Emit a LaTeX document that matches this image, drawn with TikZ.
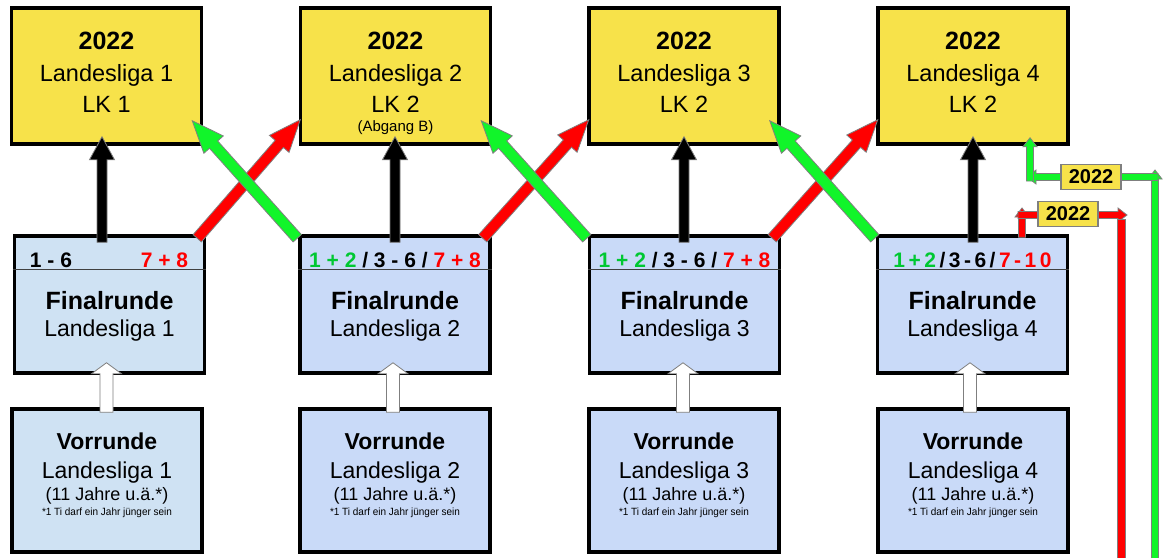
\documentclass[tikz,border=0pt]{standalone}
\usepackage{fontspec}
\setmainfont{Liberation Sans}
\usepackage{graphicx}
\usetikzlibrary{calc}
\definecolor{yel}{HTML}{F7E24A}
\definecolor{lbone}{HTML}{CFE2F3}
\definecolor{lbtwo}{HTML}{C9DAF8}
\definecolor{grn}{HTML}{11F52A}
\definecolor{tgrn}{HTML}{00C832}
\definecolor{rd}{HTML}{FF0000}
\definecolor{bord}{HTML}{7F7F7F}
\newcommand\fsz[2]{\fontsize{#1}{#2}\selectfont}
\newcommand\hdrfont{\bfseries\fsz{21}{25}}
% fat arrow polygon: from, to, fill, half shaft, half head, head length
\newcommand\fatarr[6]{%
  \coordinate (fh) at ($(#2)!#6!(#1)$);
  \draw[arrowshape, fill=#3]
    ($(#1)!#4!90:(#2)$) -- ($(fh)!#4!90:(#2)$) -- ($(fh)!#5!90:(#2)$) -- (#2)
    -- ($(fh)!#5!-90:(#2)$) -- ($(fh)!#4!-90:(#2)$) -- ($(#1)!#4!-90:(#2)$) -- cycle;}
\tikzset{
  box/.style={draw=black, line width=3.5pt, inner sep=0pt, minimum width=190pt},
  ybox/.style={box, fill=yel, minimum height=136pt},
  fbox/.style={box, minimum height=137pt},
  vbox/.style={box, minimum height=143pt},
  txt/.style={anchor=base, inner sep=0pt},
  divider/.style={draw=black!75, line width=1.2pt},
  arrowshape/.style={draw=bord, line width=0.8pt, line join=miter},
  lab/.style={draw=bord, line width=1.8pt, fill=yel, font=\bfseries\fsz{20}{24}, inner sep=0pt, minimum width=60pt, minimum height=25pt},
}
\begin{document}
\begin{tikzpicture}[x=1pt,y=-1pt]
\useasboundingbox (0,0) rectangle (1167,557);
\fill[white] (0,0) rectangle (1167,557);
% ---- boxes
\node[ybox] (y1) at (106.5,76) {};
\node[ybox] (y2) at (395.5,76) {};
\node[ybox] (y3) at (684,76) {};
\node[ybox] (y4) at (973,76) {};
\node[fbox, fill=lbone] (f1) at (109.5,304.5) {};
\node[fbox, fill=lbtwo] (f2) at (395,304.5) {};
\node[fbox, fill=lbtwo] (f3) at (684.5,304.5) {};
\node[fbox, fill=lbtwo] (f4) at (972.5,304.5) {};
\node[vbox, fill=lbone] (v1) at (107,480.5) {};
\node[vbox, fill=lbtwo] (v2) at (395,480.5) {};
\node[vbox, fill=lbtwo] (v3) at (684,480.5) {};
\node[vbox, fill=lbtwo] (v4) at (973,480.5) {};
% ---- texts
\foreach \k/\lk in {1/1,2/2,3/2,4/2}{
  \node[txt, font=\bfseries\fsz{25}{30}] (ya\k) at ($(y\k.north)+(0,43.5)$) {2022};
  \node[txt, font=\fsz{23.5}{28}] (yb\k) at ($(y\k.north)+(0,75)$) {Landesliga \k};
  \node[txt, font=\fsz{23.5}{28}] (yc\k) at ($(y\k.north)+(0,106)$) {LK \lk};
  \draw[divider] ($(f\k.north west)+(0,35)$) -- ($(f\k.north east)+(0,35)$);
  \node[txt, font=\bfseries\fsz{25}{30}] (fa\k) at ($(f\k.north)+(0,75)$) {Finalrunde};
  \node[txt, font=\fsz{23}{28}] (fb\k) at ($(f\k.north)+(0,102.5)$) {Landesliga \k};
  \node[txt, font=\bfseries\fsz{23}{28}] (va\k) at ($(v\k.north)+(0,42.5)$) {Vorrunde};
  \node[txt, font=\fsz{23}{28}] (vb\k) at ($(v\k.north)+(0,71)$) {Landesliga \k};
  \node[txt, font=\fsz{18}{21}] (vc\k) at ($(v\k.north)+(0,93)$) {(11 Jahre u.ä.*)};
  \node[txt, font=\fsz{10.5}{12}] (vd\k) at ($(v\k.north)+(0,108)$) {\scalebox{0.95}[1]{*1 Ti darf ein Jahr jünger sein}};
}
\node[txt, font=\fsz{15}{18}] (yd2) at ($(y2.north)+(0,125)$) {(Abgang B)};
% headers
\node[txt, anchor=base west, font=\hdrfont] (h1a) at ($(f1.north west)+(17,33.5)$) {1 - 6};
\node[txt, anchor=base east, font=\hdrfont, text=rd] (h1b) at ($(f1.north east)+(-18,33.5)$) {7 + 8};
\node[txt, font=\hdrfont] (h2) at ($(f2.north)+(0,33.5)$) {\textcolor{tgrn}{1 + 2} / 3 - 6 / \textcolor{rd}{7 + 8}};
\node[txt, font=\hdrfont] (h3) at ($(f3.north)+(0,33.5)$) {\textcolor{tgrn}{1 + 2} / 3 - 6 / \textcolor{rd}{7 + 8}};
\node[txt, font=\hdrfont] (h4) at ($(f4.north)+(0,33.5)$) {\textcolor{tgrn}{1\,+\,2}\,/\,3\,-\,6\,/\,\textcolor{rd}{7\,-\,1\,0}};
% ---- black and open arrows
\foreach \k/\bx/\ox in {1/102/106.5, 2/395/393, 3/684/683, 4/973/970}{
  \coordinate (bt\k) at ($(\bx,0 |- y\k.south)+(0,-9)$);
  \coordinate (bb\k) at ($(\bx,0 |- f\k.north)+(0,8)$);
  \fatarr{bb\k}{bt\k}{black}{5pt}{12.5pt}{23pt}
  \coordinate (ot\k) at ($(\ox,0 |- f\k.south)+(0,-12)$);
  \coordinate (ob\k) at ($(\ox,0 |- v\k.north)+(0,5)$);
  \fatarr{ob\k}{ot\k}{white}{6.5pt}{15pt}{11pt}
}
% ---- diagonal arrows
\foreach \k/\kk in {1/2,2/3,3/4}{
  \coordinate (rt\k) at ($(f\k.north east)+(-9,4)$);
  \coordinate (rh\k) at ($(y\kk.south west)+(1.5,-26)$);
  \fatarr{rt\k}{rh\k}{rd}{5.5pt}{13pt}{32pt}
  \coordinate (gt\k) at ($(f\kk.north west)+(-1,4)$);
  \coordinate (gh\k) at ($(y\k.south east)+(-11,-25)$);
  \fatarr{gt\k}{gh\k}{grn}{5.5pt}{13pt}{32pt}
}
% ---- right side connectors
\coordinate (g0) at (1155,560);
\coordinate (g1) at (1155,170);
\coordinate (g2) at (1158,177);
\coordinate (g3) at (1027,177);
\coordinate (g4) at (1030,181);
\coordinate (g5) at ($(y4.south)+(57,-8)$);
\fatarr{g0}{g1}{grn}{3.5pt}{7pt}{9pt}
\fatarr{g2}{g3}{grn}{3.5pt}{7pt}{9pt}
\fatarr{g4}{g5}{grn}{3.5pt}{7pt}{9pt}
\coordinate (r0) at ($(f4.north)+(49.5,3)$);
\coordinate (r1) at (1022,208);
\coordinate (r2) at (1018,215);
\coordinate (r3) at (1127,215);
\coordinate (r4) at (1117,219);
\coordinate (r5) at (1125,560);
\fatarr{r0}{r1}{rd}{3.5pt}{7pt}{9pt}
\fatarr{r2}{r3}{rd}{3.5pt}{7pt}{9pt}
\draw[arrowshape, fill=rd] (r4) rectangle (r5);
\node[lab] (lg) at (1091,177) {2022};
\node[lab] (lr) at (1068,214) {2022};
\end{tikzpicture}
\end{document}
